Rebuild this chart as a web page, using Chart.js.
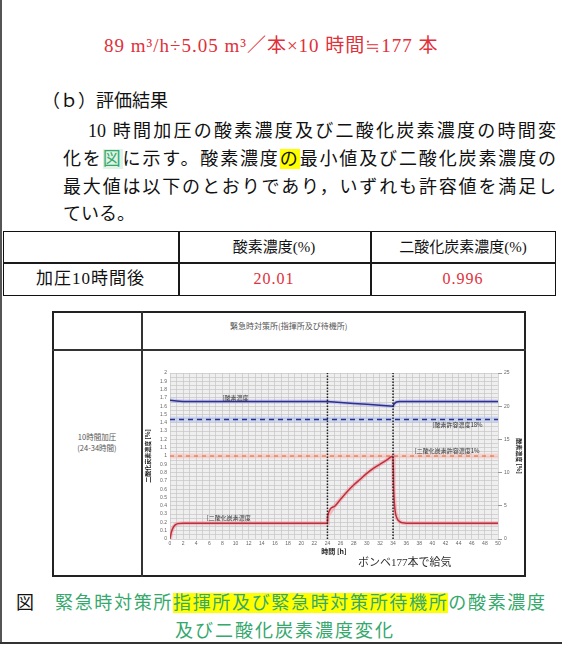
<!DOCTYPE html>
<html lang="ja">
<head>
<meta charset="utf-8">
<script src="https://cdn.jsdelivr.net/npm/chart.js@4.4.0/dist/chart.umd.min.js"></script>
<style>
  body { margin: 0; width: 562px; height: 663px; position: relative; overflow: hidden; background: #fff; }
  .t { position: absolute; white-space: nowrap; font-family: "Liberation Serif", "Noto Sans CJK JP", serif; color: #111; }
  .j { white-space: normal; text-align: justify; text-align-last: justify; }
  .line { position: absolute; background: #1a1a1a; }
  .red { color: #e0303a; }
  .hl { background: #ffff00; }
  .green { color: #35a86c; }
  .sm { font-family: "Noto Sans CJK JP", sans-serif; color: #555; }
</style>
</head>
<body>

<!-- page frame -->
<div class="line" style="left:0;top:0;width:2px;height:644px;background:#555"></div>
<div class="line" style="left:0;top:642px;width:562px;height:2px;background:#333"></div>

<div class="t red" style="left:104px;top:34px;font-size:19px;line-height:24px;letter-spacing:1px">89 m³/h÷5.05 m³／本×10 時間≒177 本</div>

<div class="t" style="left:42px;top:90px;font-size:18px;line-height:22px">（ｂ）評価結果</div>

<div class="t j" style="left:88px;top:120px;width:468px;font-size:18px;line-height:22px">10 時間加圧の酸素濃度及び二酸化炭素濃度の時間変</div>
<div class="t j" style="left:63px;top:148px;width:493px;font-size:18px;line-height:22px">化を<span class="green" style="background:#dff3e6">図</span>に示す。酸素濃度<span class="hl">の</span>最小値及び二酸化炭素濃度の</div>
<div class="t j" style="left:63px;top:176px;width:493px;font-size:18px;line-height:22px">最大値は以下のとおりであり，いずれも許容値を満足し</div>
<div class="t" style="left:63px;top:203px;font-size:18px;line-height:22px">ている。</div>

<!-- result table -->
<div style="position:absolute;left:3px;top:231px;width:553px;height:65px;border:1.5px solid #111;box-sizing:border-box"></div>
<div class="line" style="left:3px;top:262px;width:553px;height:1.5px"></div>
<div class="line" style="left:178px;top:231px;width:1.5px;height:65px"></div>
<div class="line" style="left:370px;top:231px;width:1.5px;height:65px"></div>
<div class="t" style="left:178px;top:237px;width:192px;text-align:center;font-size:15px;line-height:20px">酸素濃度(%)</div>
<div class="t" style="left:370px;top:237px;width:186px;text-align:center;font-size:15px;line-height:20px">二酸化炭素濃度(%)</div>
<div class="t" style="left:3px;top:269px;width:175px;text-align:center;font-size:17px;line-height:20px;letter-spacing:1px">加圧10時間後</div>
<div class="t red" style="left:178px;top:269px;width:192px;text-align:center;font-size:16px;line-height:20px;letter-spacing:1px">20.01</div>
<div class="t red" style="left:370px;top:269px;width:186px;text-align:center;font-size:16px;line-height:20px;letter-spacing:1px">0.996</div>

<!-- figure box -->
<div style="position:absolute;left:52px;top:311px;width:474px;height:266px;border:2px solid #222;box-sizing:border-box"></div>
<div class="line" style="left:52px;top:349px;width:474px;height:2px;background:#333"></div>
<div class="line" style="left:141px;top:311px;width:2px;height:266px;background:#333"></div>
<div class="t sm" style="left:230px;top:320px;font-size:8px;line-height:11px">緊急時対策所(指揮所及び待機所)</div>
<div class="t sm" style="left:52px;top:431px;width:90px;text-align:center;font-size:7.5px;line-height:11px">10時間加圧<br>(24-34時間)</div>

<canvas id="gasChart" width="382" height="225" style="position:absolute;left:143px;top:351px"></canvas>
<div class="t" style="left:358px;top:555px;font-size:11px;line-height:14px;color:#333">ボンベ177本で給気</div>

<!-- caption -->
<div class="t" style="left:16px;top:592px;font-size:18px;line-height:22px">図</div>
<div class="t j green" style="left:55px;top:592px;width:490px;font-size:18px;line-height:22px">緊急時対策所<span class="hl">指揮所及び緊急時対策所待機所</span>の酸素濃度</div>
<div class="t green" style="left:175px;top:620px;font-size:18px;line-height:22px;letter-spacing:2px">及び二酸化炭素濃度変化</div>

<script>
// time axis (hours) and concentration series
const timeRange = [0, 50];
const co2Range = [0, 2];
const o2Range = [0, 25];

const co2Hours = [0, 0.2, 0.5, 0.8, 1.2, 2, 24, 24.05, 25, 26, 27, 28, 29, 30, 31, 32, 33, 34, 34.1, 34.3, 34.6, 35, 35.5, 36, 50];
const co2Values = [0, 0.08, 0.14, 0.17, 0.185, 0.19, 0.19, 0.28, 0.39, 0.48, 0.57, 0.65, 0.72, 0.79, 0.85, 0.9, 0.95, 0.996, 0.6, 0.35, 0.25, 0.21, 0.195, 0.19, 0.19];

const o2Hours = [0, 1, 2, 4, 24, 26, 28, 30, 32, 34, 34.2, 34.5, 35, 50];
const o2Values = [20.9, 20.8, 20.72, 20.7, 20.7, 20.56, 20.42, 20.28, 20.14, 20.01, 20.4, 20.62, 20.7, 20.7];

const o2Limit = 18;
const co2Limit = 1;
const eventHours = [24, 34]; // start / end of pressurisation

const notes = [
  { text: '[酸素濃度', t: 8, v: 20.85, axis: 'y2', base: 'bottom' },
  { text: '[二酸化炭素濃度', t: 5.6, v: 0.22, axis: 'y', base: 'bottom' },
  { text: '[酸素許容濃度18%', t: 40, v: 17.6, axis: 'y2', base: 'top' },
  { text: '[二酸化炭素許容濃度1%', t: 37.3, v: 1.03, axis: 'y', base: 'bottom' }
];

const pts = (xs, ys) => xs.map((x, i) => ({ x: x, y: ys[i] }));
const flat = (v) => timeRange.map(x => ({ x: x, y: v }));

const datasets = [
  // halos behind the lines
  { data: pts(co2Hours, co2Values), yAxisID: 'y', borderColor: 'rgba(240,130,150,0.45)', borderWidth: 4, order: 5 },
  { data: pts(o2Hours, o2Values), yAxisID: 'y2', borderColor: 'rgba(150,150,230,0.4)', borderWidth: 4, order: 5 },
  { data: flat(o2Limit), yAxisID: 'y2', borderColor: 'rgba(170,190,240,0.5)', borderWidth: 6, order: 5 },
  { data: flat(co2Limit), yAxisID: 'y', borderColor: 'rgba(250,190,180,0.55)', borderWidth: 5, order: 5 },
  // main lines
  { data: pts(co2Hours, co2Values), yAxisID: 'y', borderColor: '#c0303a', borderWidth: 1.5, order: 1, cubicInterpolationMode: 'monotone' },
  { data: pts(o2Hours, o2Values), yAxisID: 'y2', borderColor: '#2b2f8f', borderWidth: 1.5, order: 1 },
  { data: flat(o2Limit), yAxisID: 'y2', borderColor: '#2b2f8f', borderWidth: 1.5, borderDash: [5, 4], order: 2 },
  { data: flat(co2Limit), yAxisID: 'y', borderColor: '#e0603a', borderWidth: 1, borderDash: [4, 4], order: 2 }
];
eventHours.forEach(h => {
  datasets.push({ data: co2Range.map(v => ({ x: h, y: v })), yAxisID: 'y', borderColor: '#222', borderWidth: 1.5, borderDash: [1.5, 1.5], order: 0 });
});

const plotBg = {
  id: 'plotBg',
  beforeDraw(chart) {
    const a = chart.chartArea, ctx = chart.ctx;
    ctx.save();
    ctx.fillStyle = '#efefef';
    ctx.fillRect(a.left, a.top, a.right - a.left, a.bottom - a.top);
    ctx.restore();
  }
};

const noteLabels = {
  id: 'noteLabels',
  afterDatasetsDraw(chart) {
    const ctx = chart.ctx;
    ctx.save();
    ctx.font = '6px "Noto Sans CJK JP"';
    ctx.fillStyle = '#333';
    notes.forEach(n => {
      ctx.textBaseline = n.base;
      ctx.fillText(n.text, chart.scales.x.getPixelForValue(n.t), chart.scales[n.axis].getPixelForValue(n.v));
    });
    ctx.restore();
  }
};

new Chart(document.getElementById('gasChart'), {
  type: 'line',
  data: { datasets: datasets },
  options: {
    responsive: false,
    animation: false,
    devicePixelRatio: 1,
    layout: { padding: { top: 22, bottom: 16, left: 0, right: 0 } },
    plugins: { legend: { display: false }, tooltip: { enabled: false } },
    elements: { point: { radius: 0 }, line: { tension: 0 } },
    scales: {
      x: {
        type: 'linear', min: timeRange[0], max: timeRange[1],
        ticks: { stepSize: 1, autoSkip: false, maxRotation: 0, padding: 2, color: '#666', font: { size: 5 },
          callback: v => (v % 2 === 0 ? v : '') },
        grid: { color: '#c6c6c6', lineWidth: 0.7, drawTicks: false },
        border: { display: false },
        title: { display: true, text: '時間 [h]', color: '#222', font: { size: 7, weight: 'bold', family: 'Noto Sans CJK JP' }, padding: { top: 2, bottom: 4 } },
        afterFit: s => { s.height = 21; }
      },
      y: {
        position: 'left', min: co2Range[0], max: co2Range[1],
        ticks: { stepSize: 0.05, autoSkip: false, padding: 3, color: '#666', font: { size: 5 },
          callback: v => (Math.round(v * 20) % 2 === 0 ? String(+v.toFixed(1)) : '') },
        grid: { color: '#c6c6c6', lineWidth: 0.7, drawTicks: false },
        border: { display: false },
        title: { display: true, text: '二酸化炭素濃度 [%]', color: '#222', font: { size: 6, weight: 'bold', family: 'Noto Sans CJK JP' }, padding: 1 },
        afterFit: s => { s.width = 27; }
      },
      y2: {
        position: 'right', min: o2Range[0], max: o2Range[1],
        ticks: { stepSize: 5, padding: 2, color: '#666', font: { size: 5 } },
        grid: { drawOnChartArea: false, drawTicks: true, tickLength: 4, color: '#999' },
        border: { display: false },
        title: { display: true, text: '酸素濃度 [%]', color: '#222', font: { size: 6, weight: 'bold', family: 'Noto Sans CJK JP' }, padding: 2 },
        afterFit: s => { s.width = 27; }
      }
    }
  },
  plugins: [plotBg, noteLabels]
});
</script>
</body>
</html>
